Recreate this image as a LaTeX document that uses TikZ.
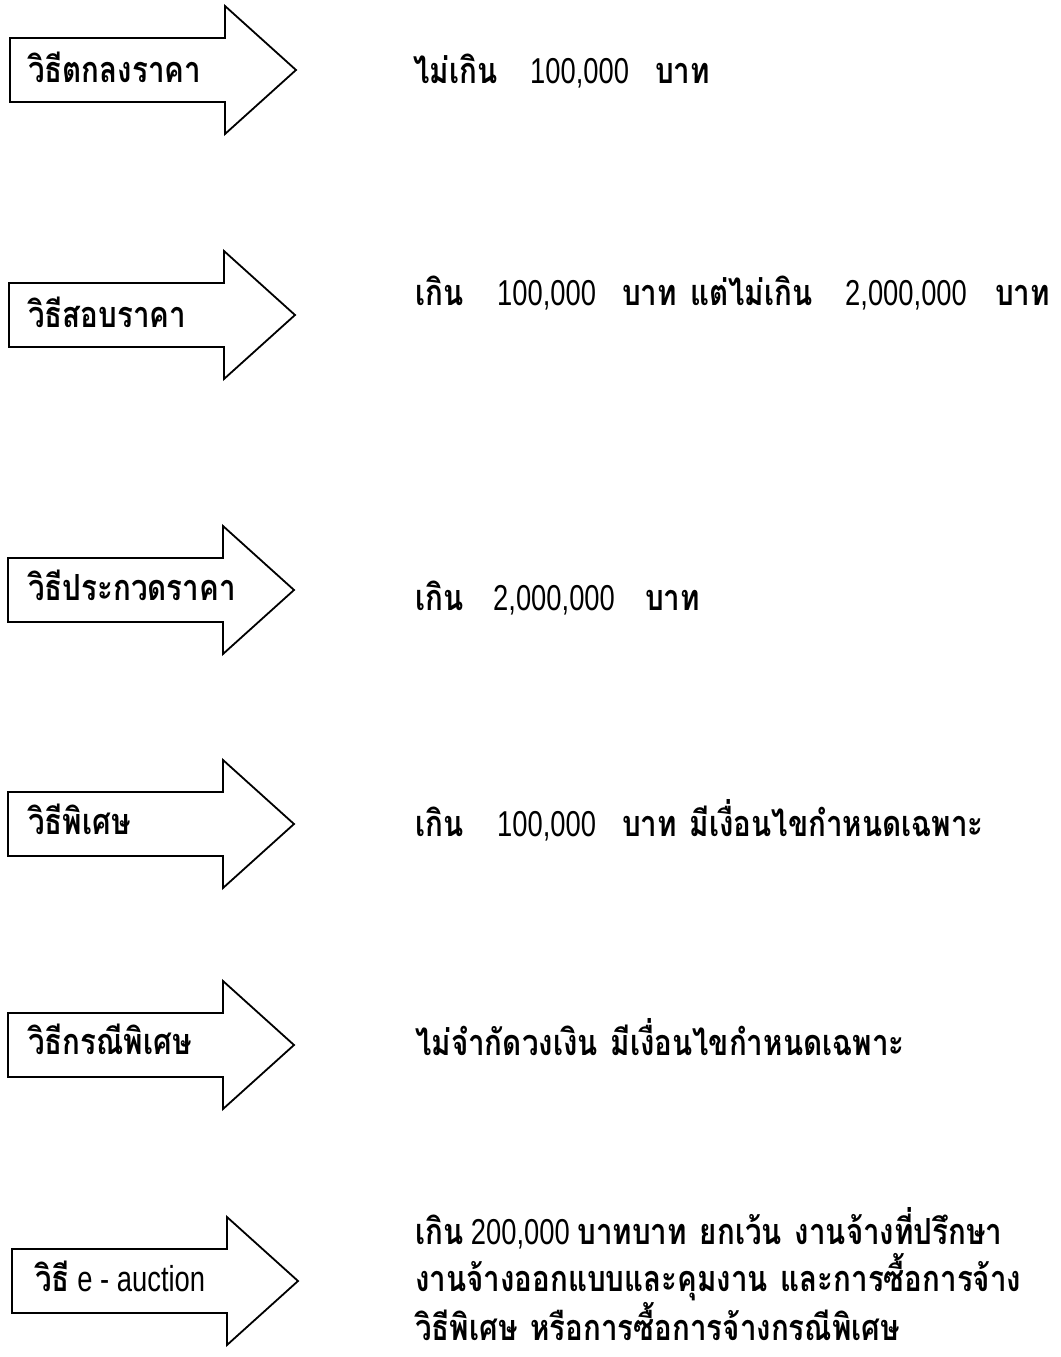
\documentclass[tikz,border=0pt]{standalone}
\usepackage{fontspec}
\setmainfont{Liberation Sans}[FakeStretch=0.76]
\newfontfamily\thaifont[Script=Thai,FakeStretch=0.82,WordSpace=1.3]{Loma}
\newcommand\thaitxt[1]{{\thaifont\bfseries #1}}
\begin{document}
\begin{tikzpicture}[x=1pt,y=-1pt,
  arrowline/.style={draw=black,line width=1.8pt,line join=miter},
  txt/.style={anchor=base west,inner sep=0pt,font=\fontsize{36}{46.5}\selectfont},
  bigarrow/.pic={\draw[arrowline] (0,-32) -- (215,-32) -- (215,-64) -- (286,0) -- (215,64) -- (215,32) -- (0,32) -- cycle;}]
\useasboundingbox[fill=white] (0,0) rectangle (1060,1357);
% arrows
\pic (a1) at (10,70) {bigarrow};
\pic (a2) at (9,315) {bigarrow};
\pic (a3) at (8,590) {bigarrow};
\pic (a4) at (8,824) {bigarrow};
\pic (a5) at (8,1045) {bigarrow};
\pic (a6) at (12,1281) {bigarrow};
% labels
\node[txt] (l1) at (28,82) {\thaitxt{วิธีตกลงราคา}};
\node[txt] (l2) at (28,327) {\thaitxt{วิธีสอบราคา}};
\node[txt] (l3) at (28,600) {\thaitxt{วิธีประกวดราคา}};
\node[txt] (l4) at (28,834) {\thaitxt{วิธีพิเศษ}};
\node[txt] (l5) at (28,1054) {\thaitxt{วิธีกรณีพิเศษ}};
\node[txt] (l6) at (35,1291) {\thaitxt{วิธี} e - auction};
% descriptions
\node[txt] (r1) at (413,83) {\makebox[117pt][l]{\thaitxt{ไม่เกิน}}\makebox[125pt][l]{100,000}\thaitxt{บาท}};
\node[txt] (r2) at (415,305) {\makebox[82pt][l]{\thaitxt{เกิน}}\makebox[125pt][l]{100,000}\makebox[68pt][l]{\thaitxt{บาท}}\makebox[155pt][l]{\thaitxt{แต่ไม่เกิน}}\makebox[150pt][l]{2,000,000}\thaitxt{บาท}};
\node[txt] (r3) at (415,610) {\makebox[78pt][l]{\thaitxt{เกิน}}\makebox[152pt][l]{2,000,000}\thaitxt{บาท}};
\node[txt] (r4) at (415,836) {\makebox[82pt][l]{\thaitxt{เกิน}}\makebox[125pt][l]{100,000}\thaitxt{บาท มีเงื่อนไขกำหนดเฉพาะ}};
\node[txt] (r5) at (415,1055) {\thaitxt{ไม่จำกัดวงเงิน มีเงื่อนไขกำหนดเฉพาะ}};
\node[txt,align=left] (r6) at (415,1340) {\thaitxt{เกิน} 200,000 \thaitxt{บาทบาท ยกเว้น งานจ้างที่ปรึกษา}\\\thaitxt{งานจ้างออกแบบและคุมงาน และการซื้อการจ้าง}\\\thaitxt{วิธีพิเศษ หรือการซื้อการจ้างกรณีพิเศษ}};
\end{tikzpicture}
\end{document}
